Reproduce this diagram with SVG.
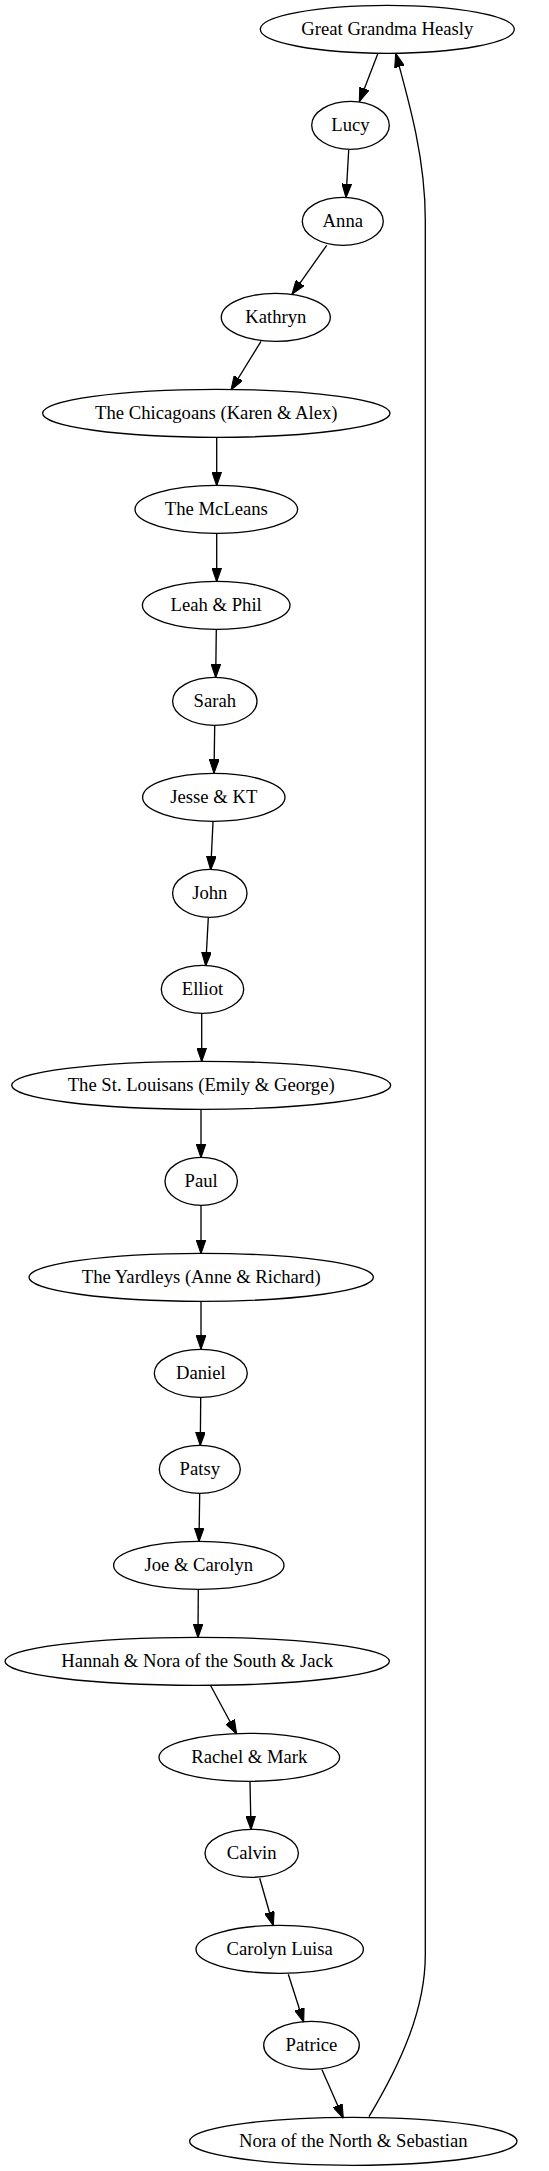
<svg xmlns="http://www.w3.org/2000/svg" width="549" height="2171" viewBox="0 0 549 2171">
<style>
.n ellipse{fill:none;stroke:#000;stroke-width:1.33}
.n text{font-family:"Liberation Serif","Times New Roman",serif;font-size:18.67px;text-anchor:middle;fill:#000}
.e path{fill:none;stroke:#000;stroke-width:1.33;marker-end:url(#arr)}
</style>
<defs>
<marker id="arr" markerUnits="userSpaceOnUse" markerWidth="14" markerHeight="10" refX="13.33" refY="4.67" orient="auto" viewBox="0 0 13.33 9.33">
<path d="M0,0 L13.33,4.67 L0,9.33 z" fill="#000" stroke="#000" stroke-width="1"/>
</marker>
</defs>
<rect width="549" height="2171" fill="#fff"/>
<g id="edges" class="e">
<path d="M377.7,54 L359.3,101.7"/>
<path d="M348.7,150 L346,197.7"/>
<path d="M326.7,245.3 L292,294.3"/>
<path d="M261,341.3 L231,390"/>
<path d="M216.7,437.7 L216.7,485.7"/>
<path d="M216.7,534 L216.7,581.7"/>
<path d="M216.3,630 L215.7,677.7"/>
<path d="M214.7,726 L214,773.3"/>
<path d="M213,822 L210.7,870"/>
<path d="M208.3,917.7 L205.7,966"/>
<path d="M201.7,1013.3 L201.7,1061.7"/>
<path d="M201,1110 L201,1157.7"/>
<path d="M201,1205.7 L201,1253.7"/>
<path d="M201,1302 L201,1349.3"/>
<path d="M200.7,1397.7 L200.3,1445.7"/>
<path d="M199.7,1493.3 L199,1541.7"/>
<path d="M198.3,1589.3 L198,1637.7"/>
<path d="M210.7,1685.7 L236.7,1734"/>
<path d="M250,1781.7 L251,1829.7"/>
<path d="M259.7,1878.3 L273.3,1925.7"/>
<path d="M288.3,1974.3 L303.7,2022.3"/>
<path d="M322,2069.7 L343.3,2118.3"/>
<path d="M369,2116.7 C400,2065 425.3,2010 425.3,1955 L425.3,220 C425.3,160 410,105 395.7,53.3"/>
</g>
<g id="n1" class="n"><ellipse cx="387.3" cy="29.3" rx="127" ry="24"/><text x="387.3" y="35">Great Grandma Heasly</text></g>
<g id="n2" class="n"><ellipse cx="350.5" cy="125.3" rx="38.8" ry="24"/><text x="350.5" y="131">Lucy</text></g>
<g id="n3" class="n"><ellipse cx="342.8" cy="221.3" rx="40.5" ry="24"/><text x="342.8" y="227">Anna</text></g>
<g id="n4" class="n"><ellipse cx="275.8" cy="317.3" rx="54.5" ry="24"/><text x="275.8" y="323">Kathryn</text></g>
<g id="n5" class="n"><ellipse cx="216.3" cy="413.3" rx="173.7" ry="24"/><text x="216.3" y="419">The Chicagoans (Karen &amp; Alex)</text></g>
<g id="n6" class="n"><ellipse cx="216.3" cy="509.3" rx="81.3" ry="24"/><text x="216.3" y="515">The McLeans</text></g>
<g id="n7" class="n"><ellipse cx="216.2" cy="605.3" rx="73.8" ry="24"/><text x="216.2" y="611">Leah &amp; Phil</text></g>
<g id="n8" class="n"><ellipse cx="214.8" cy="701.3" rx="42.2" ry="24"/><text x="214.8" y="707">Sarah</text></g>
<g id="n9" class="n"><ellipse cx="213.8" cy="797.3" rx="71.2" ry="24"/><text x="213.8" y="803">Jesse &amp; KT</text></g>
<g id="n10" class="n"><ellipse cx="209.8" cy="893.3" rx="37.2" ry="24"/><text x="209.8" y="899">John</text></g>
<g id="n11" class="n"><ellipse cx="202.5" cy="989.3" rx="41.2" ry="24"/><text x="202.5" y="995">Elliot</text></g>
<g id="n12" class="n"><ellipse cx="201.2" cy="1085.3" rx="189.5" ry="24"/><text x="201.2" y="1091">The St. Louisans (Emily &amp; George)</text></g>
<g id="n13" class="n"><ellipse cx="201.2" cy="1181.3" rx="36.2" ry="24"/><text x="201.2" y="1187">Paul</text></g>
<g id="n14" class="n"><ellipse cx="201.2" cy="1277.3" rx="172.2" ry="24"/><text x="201.2" y="1283">The Yardleys (Anne &amp; Richard)</text></g>
<g id="n15" class="n"><ellipse cx="200.8" cy="1373.3" rx="46.5" ry="24"/><text x="200.8" y="1379">Daniel</text></g>
<g id="n16" class="n"><ellipse cx="199.8" cy="1469.3" rx="40.5" ry="24"/><text x="199.8" y="1475">Patsy</text></g>
<g id="n17" class="n"><ellipse cx="198.8" cy="1565.3" rx="85.2" ry="24"/><text x="198.8" y="1571">Joe &amp; Carolyn</text></g>
<g id="n18" class="n"><ellipse cx="197.2" cy="1661.3" rx="192.2" ry="24"/><text x="197.2" y="1667">Hannah &amp; Nora of the South &amp; Jack</text></g>
<g id="n19" class="n"><ellipse cx="249.3" cy="1757.3" rx="90.3" ry="24"/><text x="249.3" y="1763">Rachel &amp; Mark</text></g>
<g id="n20" class="n"><ellipse cx="251.7" cy="1853.3" rx="46.7" ry="24"/><text x="251.7" y="1859">Calvin</text></g>
<g id="n21" class="n"><ellipse cx="279.7" cy="1949.3" rx="83.7" ry="24"/><text x="279.7" y="1955">Carolyn Luisa</text></g>
<g id="n22" class="n"><ellipse cx="311.5" cy="2045.3" rx="47.8" ry="24"/><text x="311.5" y="2051">Patrice</text></g>
<g id="n23" class="n"><ellipse cx="353.3" cy="2141.3" rx="163.7" ry="24"/><text x="353.3" y="2147">Nora of the North &amp; Sebastian</text></g>
</svg>
